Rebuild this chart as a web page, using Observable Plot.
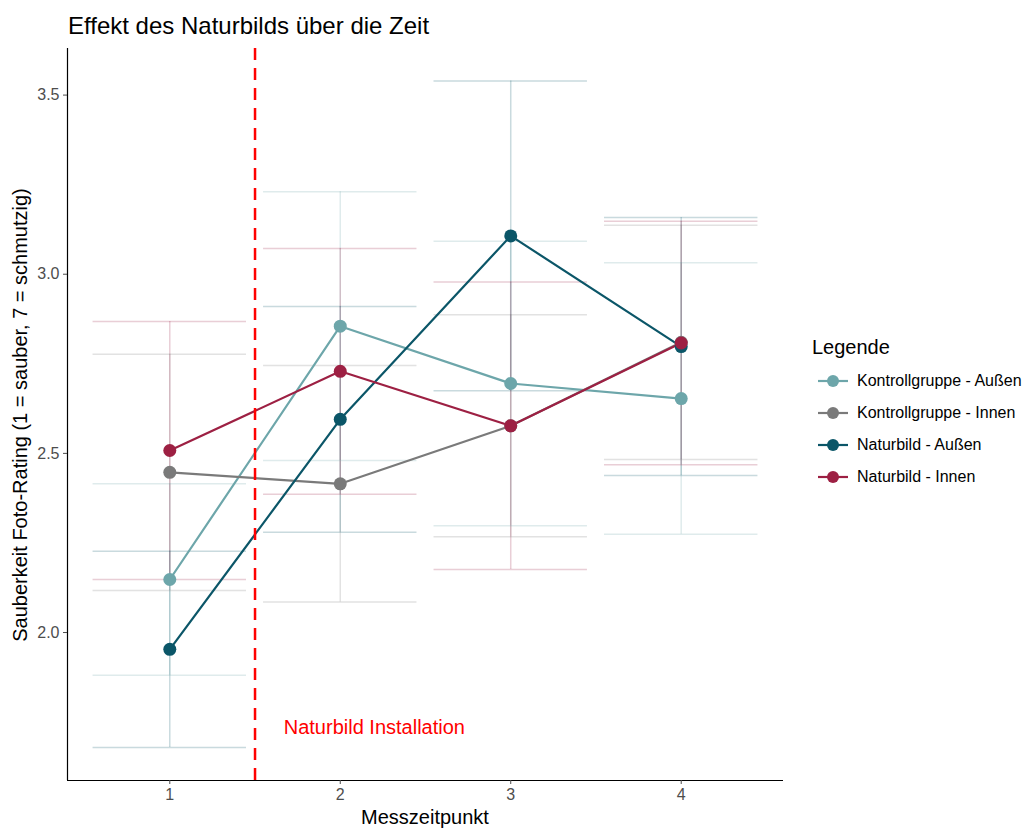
<!DOCTYPE html>
<html>
<head>
<meta charset="utf-8">
<script src="https://cdn.jsdelivr.net/npm/d3@7"></script>
<script src="https://cdn.jsdelivr.net/npm/@observablehq/plot@0.6"></script>
<style>
  html, body { margin: 0; padding: 0; background: #fff; }
  #wrap { position: relative; width: 1030px; height: 832px; font-family: "Liberation Sans", Arial, sans-serif; }
  #title { position: absolute; left: 68px; top: 12px; font-size: 24px; line-height: 28px; color: #000; white-space: nowrap; }
  #ylab { position: absolute; left: 20px; top: 415px; transform: translate(-50%, -50%) rotate(-90deg); font-size: 20px; line-height: 23px; color: #000; white-space: nowrap; }
  #xlab { position: absolute; left: 425px; top: 806px; transform: translateX(-50%); font-size: 20px; line-height: 23px; color: #000; white-space: nowrap; }
  #legend { position: absolute; left: 812px; top: 336px; }
  #legend .lt { font-size: 20px; line-height: 23px; color: #000; margin-bottom: 6px; }
  #legend .it { display: flex; align-items: center; height: 32px; font-size: 16px; color: #000; white-space: nowrap; }
  #legend svg { margin-left: 6px; margin-right: 9px; }
</style>
</head>
<body>
<div id="wrap">
  <div id="chart"></div>
  <div id="title">Effekt des Naturbilds über die Zeit</div>
  <div id="ylab">Sauberkeit Foto-Rating (1 = sauber, 7 = schmutzig)</div>
  <div id="xlab">Messzeitpunkt</div>
  <div id="legend"></div>
</div>
<script>
const times = [1, 2, 3, 4];
const groups = ["Kontrollgruppe - Außen", "Kontrollgruppe - Innen", "Naturbild - Außen", "Naturbild - Innen"];
const colors = ["#6da6aa", "#7a7a7a", "#0b5668", "#9d2043"];
const meanKA = [2.148, 2.855, 2.695, 2.653];
const errKA  = [0.267, 0.375, 0.397, 0.379];
const meanKI = [2.447, 2.415, 2.577, 2.810];
const errKI  = [0.330, 0.330, 0.310, 0.327];
const meanNA = [1.953, 2.595, 3.107, 2.798];
const errNA  = [0.274, 0.315, 0.432, 0.360];
const meanNI = [2.508, 2.729, 2.577, 2.808];
const errNI  = [0.360, 0.343, 0.401, 0.340];
const yTicks = [2.0, 2.5, 3.0, 3.5];
const installAt = 1.5;
const installLabel = "Naturbild Installation";
const installLabelPos = {x: 2.2, y: 1.735};

const means = [meanKA, meanKI, meanNA, meanNI];
const errs = [errKA, errKI, errNA, errNI];
const rows = [];
groups.forEach((g, gi) => times.forEach((t, ti) => {
  rows.push({group: g, t, mean: means[gi][ti], lo: means[gi][ti] - errs[gi][ti], hi: means[gi][ti] + errs[gi][ti]});
}));

const capHalf = 0.45;
const xDomain = [0.4, 4.6];
const yDomain = [1.587, 3.63];

const chart = Plot.plot({
  width: 1030,
  height: 832,
  marginLeft: 67,
  marginRight: 247,
  marginTop: 48,
  marginBottom: 52,
  style: {fontFamily: "Liberation Sans, Arial, sans-serif", fontSize: "16px", background: "white"},
  x: {domain: xDomain},
  y: {domain: yDomain},
  color: {domain: groups, range: colors},
  marks: [
    Plot.ruleX(rows, {x: "t", y1: "lo", y2: "hi", stroke: "group", strokeOpacity: 0.22, strokeWidth: 1.5}),
    Plot.ruleY(rows, {y: "hi", x1: d => d.t - capHalf, x2: d => d.t + capHalf, stroke: "group", strokeOpacity: 0.22, strokeWidth: 1.5}),
    Plot.ruleY(rows, {y: "lo", x1: d => d.t - capHalf, x2: d => d.t + capHalf, stroke: "group", strokeOpacity: 0.22, strokeWidth: 1.5}),
    Plot.line(rows, {x: "t", y: "mean", z: "group", stroke: "group", strokeWidth: 2.2}),
    Plot.dot(rows, {x: "t", y: "mean", fill: "group", r: 6.5}),
    Plot.ruleX([installAt], {stroke: "#ff0000", strokeWidth: 2.5, strokeDasharray: "12,8"}),
    Plot.text([installLabel], {x: installLabelPos.x, y: installLabelPos.y, text: d => d, fill: "#ff0000", fontSize: 20}),
    Plot.ruleX([xDomain[0]], {stroke: "#000", strokeWidth: 1.2}),
    Plot.ruleY([yDomain[0]], {stroke: "#000", strokeWidth: 1.2}),
    Plot.axisX({ticks: times, tickFormat: d => d, tickSize: 4, tickPadding: 4, label: null, color: "#4d4d4d", fontSize: 16}),
    Plot.axisY({ticks: yTicks, tickFormat: ".1f", tickSize: 4, tickPadding: 4, label: null, color: "#4d4d4d", fontSize: 16})
  ]
});
document.getElementById("chart").appendChild(chart);

const leg = document.getElementById("legend");
const lt = document.createElement("div");
lt.className = "lt";
lt.textContent = "Legende";
leg.appendChild(lt);
groups.forEach((g, i) => {
  const it = document.createElement("div");
  it.className = "it";
  it.innerHTML = `<svg width="30" height="16"><line x1="0" x2="30" y1="8" y2="8" stroke="${colors[i]}" stroke-width="2.2"/><circle cx="15" cy="8" r="6" fill="${colors[i]}"/></svg><span>${g}</span>`;
  leg.appendChild(it);
});
</script>
</body>
</html>
